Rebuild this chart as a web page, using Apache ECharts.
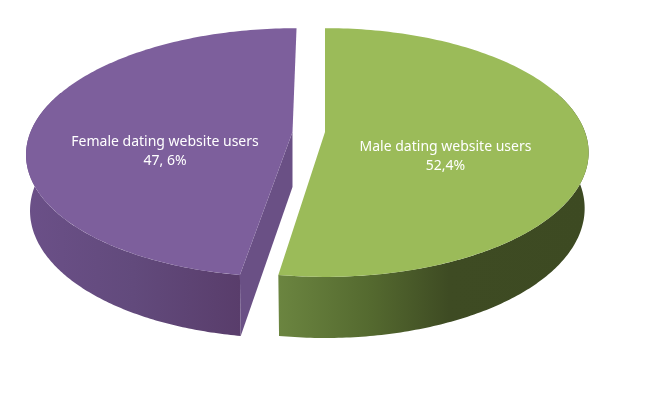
<!DOCTYPE html>
<html><head><meta charset="utf-8">
<style>html,body{margin:0;padding:0;background:#fff}#c{width:666px;height:396px}</style>
<script src="https://cdn.jsdelivr.net/npm/echarts@6/dist/echarts.min.js"></script>
</head><body><div id="c"></div>
<script>
var categories = ['Male dating website users', 'Female dating website users'];
var shares = [52.4, 47.6];
var shareLabels = ['52,4%', '47, 6%'];

var looks = [
  {apexX:325, shear:0, radiusX:260, top:'#9bbb59', wallStops:[[0,'#6b8540'],[0.3,'#54692f'],[0.55,'#3e4b23'],[1,'#3d4a22']], textX:445.5, textY:156.5},
  {apexX:292.5, shear:-4.7, radiusX:262, top:'#7d5f9c', cut:'#6a5085', wallStops:[[0,'#6b5088'],[0.5,'#624a7c'],[1,'#593d6b']], textX:165, textY:152}
];
var APEX_Y = 132, RY = 121, PERSP = 0.165, DEPTH = 55, BASE_X = 0.985, BASE_Y = 1.042;

function project(look, a, base) {
  var u = Math.sin(a), v = -Math.cos(a), w = 1 - PERSP * v;
  var sx = base ? BASE_X : 1, sy = base ? BASE_Y : 1;
  return [
    look.apexX + sx * (look.radiusX * u + look.shear * v) / w,
    APEX_Y + (base ? DEPTH : 0) + sy * RY * v / w
  ];
}
function arc(look, a0, a1, base) {
  var pts = [], n = 160;
  for (var i = 0; i <= n; i++) pts.push(project(look, a0 + (a1 - a0) * i / n, base));
  return pts;
}
var total = shares.reduce(function (s, x) { return s + x; }, 0);

function renderItem(params, api) {
  var i = params.dataIndex, look = looks[i], start = 0;
  for (var k = 0; k < i; k++) start += shares[k];
  var a0 = start / total * 2 * Math.PI, a1 = (start + api.value(0)) / total * 2 * Math.PI;
  var apexTop = [look.apexX, APEX_Y], apexBase = [look.apexX, APEX_Y + DEPTH];
  var kids = [];
  var w0 = Math.max(a0, Math.PI / 2 - 0.35), w1 = Math.min(a1, 3 * Math.PI / 2 + 0.35);
  var wall = arc(look, w0, w1, false).concat(arc(look, w0, w1, true).reverse());
  kids.push({type:'polygon', shape:{points:wall}, style:{fill:{
    type:'linear', x:0, y:0, x2:1, y2:0, global:false,
    colorStops: look.wallStops.map(function (s) { return {offset:s[0], color:s[1]}; })
  }}});
  if (look.cut) {
    var cutEnd = project(look, a0, false), cutEndB = project(look, a0, true);
    kids.push({type:'polygon', shape:{points:[apexTop, cutEnd, cutEndB, apexBase]}, style:{fill:look.cut}});
  }
  kids.push({type:'polygon', shape:{points:[apexTop].concat(arc(look, a0, a1, false))}, style:{fill:look.top}});
  kids.push({type:'text', x:look.textX, y:look.textY, style:{
    text:categories[i] + '\n' + shareLabels[i], fill:'#fff', align:'center', verticalAlign:'middle',
    font:'14px "Noto Sans"', lineHeight:19
  }});
  return {type:'group', children:kids};
}

var chart = echarts.init(document.getElementById('c'), null, {renderer:'canvas'});
chart.setOption({
  animation:false,
  backgroundColor:'#fff',
  series:[{type:'custom', coordinateSystem:'none', renderItem:renderItem, silent:true,
    data:shares.map(function (v, i) { return {name:categories[i], value:[v]}; })}]
});
</script></body></html>
